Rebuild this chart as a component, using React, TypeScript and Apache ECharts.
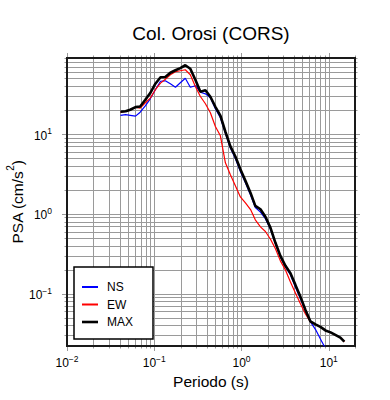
import React, { useEffect, useRef } from "react";
import * as echarts from "echarts";

// Periods (s) at which the spectra were read
const periods = [
  0.041, 0.047, 0.053, 0.061, 0.069, 0.079, 0.09, 0.103, 0.118, 0.134, 0.153,
  0.175, 0.199, 0.227, 0.259, 0.296, 0.338, 0.386, 0.44, 0.502, 0.573, 0.654,
  0.746, 0.851, 0.971, 1.11, 1.27, 1.44, 1.65, 1.88, 2.15, 2.45, 2.79, 3.19,
  3.64, 4.15, 4.74, 5.41, 6.17, 7.04, 8.03, 9.17, 10.5, 11.9, 13.6, 15.1,
];

// PSA (cm/s^2) — NS component
const nsValues = [
  17.2, 17.5, 17.2, 16.8, 18.8, 22.6, 27.7, 36.0, 46.0, 46.6, 42.8, 38.7, 44.0,
  50.1, 38.7, 40.4, 33.5, 32.0, 28.5, 20.8, 16.0, 10.2, 6.7, 4.95, 3.4, 2.45,
  1.72, 1.2, 1.05, 0.87, 0.64, 0.42, 0.289, 0.216, 0.172, 0.121, 0.0858,
  0.0607, 0.0442, 0.0356, 0.027, 0.0205, 0.0157,
];

// PSA (cm/s^2) — EW component
const ewValues = [
  18.9, 19.2, 19.9, 21.7, 21.2, 24.7, 28.3, 36.0, 43.6, 48.7, 55.5, 60.5, 62.3,
  64.1, 55.5, 39.6, 29.6, 24.0, 18.5, 12.45, 9.52, 4.36, 3.09, 2.25, 1.63,
  1.37, 1.13, 0.84, 0.686, 0.6, 0.48, 0.364, 0.257, 0.198, 0.14, 0.102,
  0.0743, 0.0556, 0.044, 0.041, 0.038, 0.0344, 0.0325, 0.0302, 0.0279, 0.0249,
];

// PSA (cm/s^2) — MAX
const maxValues = [
  19.05, 19.3, 20.2, 21.8, 22.2, 26.9, 32.7, 42.8, 51.6, 51.9, 58.8, 63.2, 67.3,
  73.0, 66.0, 48.0, 33.9, 35.4, 29.4, 22.0, 17.0, 10.7, 7.0, 5.24, 3.62, 2.59,
  1.83, 1.26, 1.14, 0.917, 0.667, 0.433, 0.297, 0.2226, 0.18, 0.1285, 0.0909,
  0.0624, 0.0447, 0.0411, 0.0382, 0.0345, 0.0326, 0.0303, 0.028, 0.025,
];

const X_MIN = 0.01;
const X_MAX = 20;
const Y_MIN = 0.022;
const Y_MAX = 90;

const FONT = "'Liberation Sans', Arial, Helvetica, sans-serif";
const LINE_ICON = "path://M0,0H16V2H0Z";

function gridValues(min: number, max: number): [number, number][] {
  const out: [number, number][] = [];
  for (let k = -3; k <= 2; k++) {
    for (let m = 1; m <= 9; m++) {
      const v = m * Math.pow(10, k);
      if (v >= min * 0.999 && v <= max * 1.001) out.push([v, m === 1 ? 1 : 0]);
    }
  }
  return out;
}

function pow10Label(value: number): string {
  const e = Math.log10(value);
  const r = Math.round(e);
  if (Math.abs(e - r) > 1e-6) return "";
  const exp = r < 0 ? "\u2212" + Math.abs(r) : String(r);
  return "{b|10}{s|" + exp + "}";
}

const labelRich = {
  b: { fontSize: 12, fontFamily: FONT, color: "#000", padding: [3, 0, 0, 0], verticalAlign: "bottom" },
  s: { fontSize: 8.5, fontFamily: FONT, color: "#000", verticalAlign: "top" },
};

export default function App() {
  const ref = useRef<HTMLDivElement>(null);

  useEffect(() => {
    if (!ref.current) return;
    const chart = echarts.init(ref.current, undefined, { renderer: "svg" });

    const xGrid = gridValues(X_MIN, X_MAX);
    const yGrid = gridValues(Y_MIN, Y_MAX);
    const gridData: number[][] = [
      ...xGrid.map(([v, maj]) => [v, 1, 0, maj]),
      ...yGrid.map(([v, maj]) => [1, v, 1, maj]),
      [1, 1, 2, 0],
    ];

    const grey = "#9a9a9a";

    const option: any = {
      animation: false,
      backgroundColor: "#fff",
      graphic: [
        {
          type: "text",
          x: 211,
          y: 33,
          style: {
            text: "Col. Orosi (CORS)",
            textAlign: "center",
            textVerticalAlign: "middle",
            fontSize: 19,
            fontFamily: FONT,
            fill: "#000",
          },
        },
      ],
      grid: {
        left: 67,
        top: 58,
        width: 288,
        height: 288,
        containLabel: false,
        outerBoundsMode: "none",
      },
      legend: {
        orient: "vertical",
        left: 74,
        top: 267,
        data: [
          { name: "NS", icon: LINE_ICON },
          { name: "EW", icon: LINE_ICON },
          { name: "MAX", icon: "path://M0,0H16V2.6H0Z" },
        ],
        selectedMode: false,
        backgroundColor: "#fff",
        borderColor: "#000",
        borderWidth: 1.5,
        borderRadius: 0,
        padding: [14, 20, 11, 8],
        itemWidth: 16,
        itemHeight: 14,
        itemGap: 5.5,
        symbolKeepAspect: true,
        textStyle: { fontSize: 12, fontFamily: FONT, color: "#000", padding: [0, 0, 0, 4] },
      },
      xAxis: {
        type: "log",
        logBase: 10,
        min: X_MIN,
        max: X_MAX,
        name: "Periodo (s)",
        nameLocation: "middle",
        nameGap: 27,
        nameMoveOverlap: false,
        nameTextStyle: { fontSize: 15.5, fontFamily: FONT, color: "#000" },
        axisLine: { show: false },
        axisTick: { show: false },
        splitLine: { show: false },
        minorTick: { show: false },
        axisLabel: { margin: 8, formatter: pow10Label, rich: labelRich, showMinLabel: true, showMaxLabel: true },
      },
      yAxis: {
        type: "log",
        logBase: 10,
        min: Y_MIN,
        max: Y_MAX,
        name: "{a|PSA (cm/s}{s|2}{a|)}",
        nameLocation: "middle",
        nameGap: 42,
        nameMoveOverlap: false,
        nameTextStyle: {
          rich: {
            a: { fontSize: 15.5, fontFamily: FONT, color: "#000", padding: [4, 0, 0, 0], verticalAlign: "bottom" },
            s: { fontSize: 10, fontFamily: FONT, color: "#000", verticalAlign: "top" },
          },
        },
        axisLine: { show: false },
        axisTick: { show: false },
        splitLine: { show: false },
        minorTick: { show: false },
        axisLabel: { margin: 15, formatter: pow10Label, rich: labelRich },
      },
      series: [
        {
          name: "gridlines",
          type: "custom",
          silent: true,
          clip: false,
          z: 1,
          encode: { x: 0, y: 1 },
          data: gridData,
          renderItem: (params: any, api: any) => {
            const cs = params.coordSys;
            const kind = api.value(2);
            const major = api.value(3) === 1;
            const L = major ? 5 : 2.5;
            const st = { stroke: grey, lineWidth: 1 };
            if (kind === 0) {
              const x = Math.round(api.coord([api.value(0), 1])[0]) + 0.5;
              const y0 = cs.y;
              const y1 = cs.y + cs.height;
              return {
                type: "group",
                children: [
                  { type: "line", shape: { x1: x, y1: y0, x2: x, y2: y1 }, style: st },
                  { type: "line", shape: { x1: x, y1: y0 - L, x2: x, y2: y0 }, style: st },
                  { type: "line", shape: { x1: x, y1: y1, x2: x, y2: y1 + L }, style: st },
                ],
              };
            }
            if (kind === 1) {
              const y = Math.round(api.coord([1, api.value(1)])[1]) + 0.5;
              const x0 = cs.x;
              const x1 = cs.x + cs.width;
              return {
                type: "group",
                children: [
                  { type: "line", shape: { x1: x0, y1: y, x2: x1, y2: y }, style: st },
                  { type: "line", shape: { x1: x0 - L, y1: y, x2: x0, y2: y }, style: st },
                  { type: "line", shape: { x1: x1, y1: y, x2: x1 + L, y2: y }, style: st },
                ],
              };
            }
            return {
              type: "rect",
              shape: { x: cs.x, y: cs.y, width: cs.width, height: cs.height },
              style: { fill: "none", stroke: "#1a1a1a", lineWidth: 2 },
            };
          },
        },
        {
          name: "NS",
          type: "line",
          z: 3,
          symbol: "none",
          showSymbol: false,
          color: "#0000ff",
          lineStyle: { color: "#0000ff", width: 1.2 },
          data: nsValues.map((v, i) => [periods[i], v]),
        },
        {
          name: "EW",
          type: "line",
          z: 3,
          symbol: "none",
          showSymbol: false,
          color: "#ff0000",
          lineStyle: { color: "#ff0000", width: 1.2 },
          data: ewValues.map((v, i) => [periods[i], v]),
        },
        {
          name: "MAX",
          type: "line",
          z: 4,
          symbol: "none",
          showSymbol: false,
          color: "#000000",
          lineStyle: { color: "#000000", width: 2.6 },
          data: maxValues.map((v, i) => [periods[i], v]),
        },
      ],
    };

    chart.setOption(option);
    return () => {
      chart.dispose();
    };
  }, []);

  return (
    <div
      ref={ref}
      style={{ position: "absolute", left: 0, top: 0, width: 390, height: 400, background: "#fff" }}
    />
  );
}
